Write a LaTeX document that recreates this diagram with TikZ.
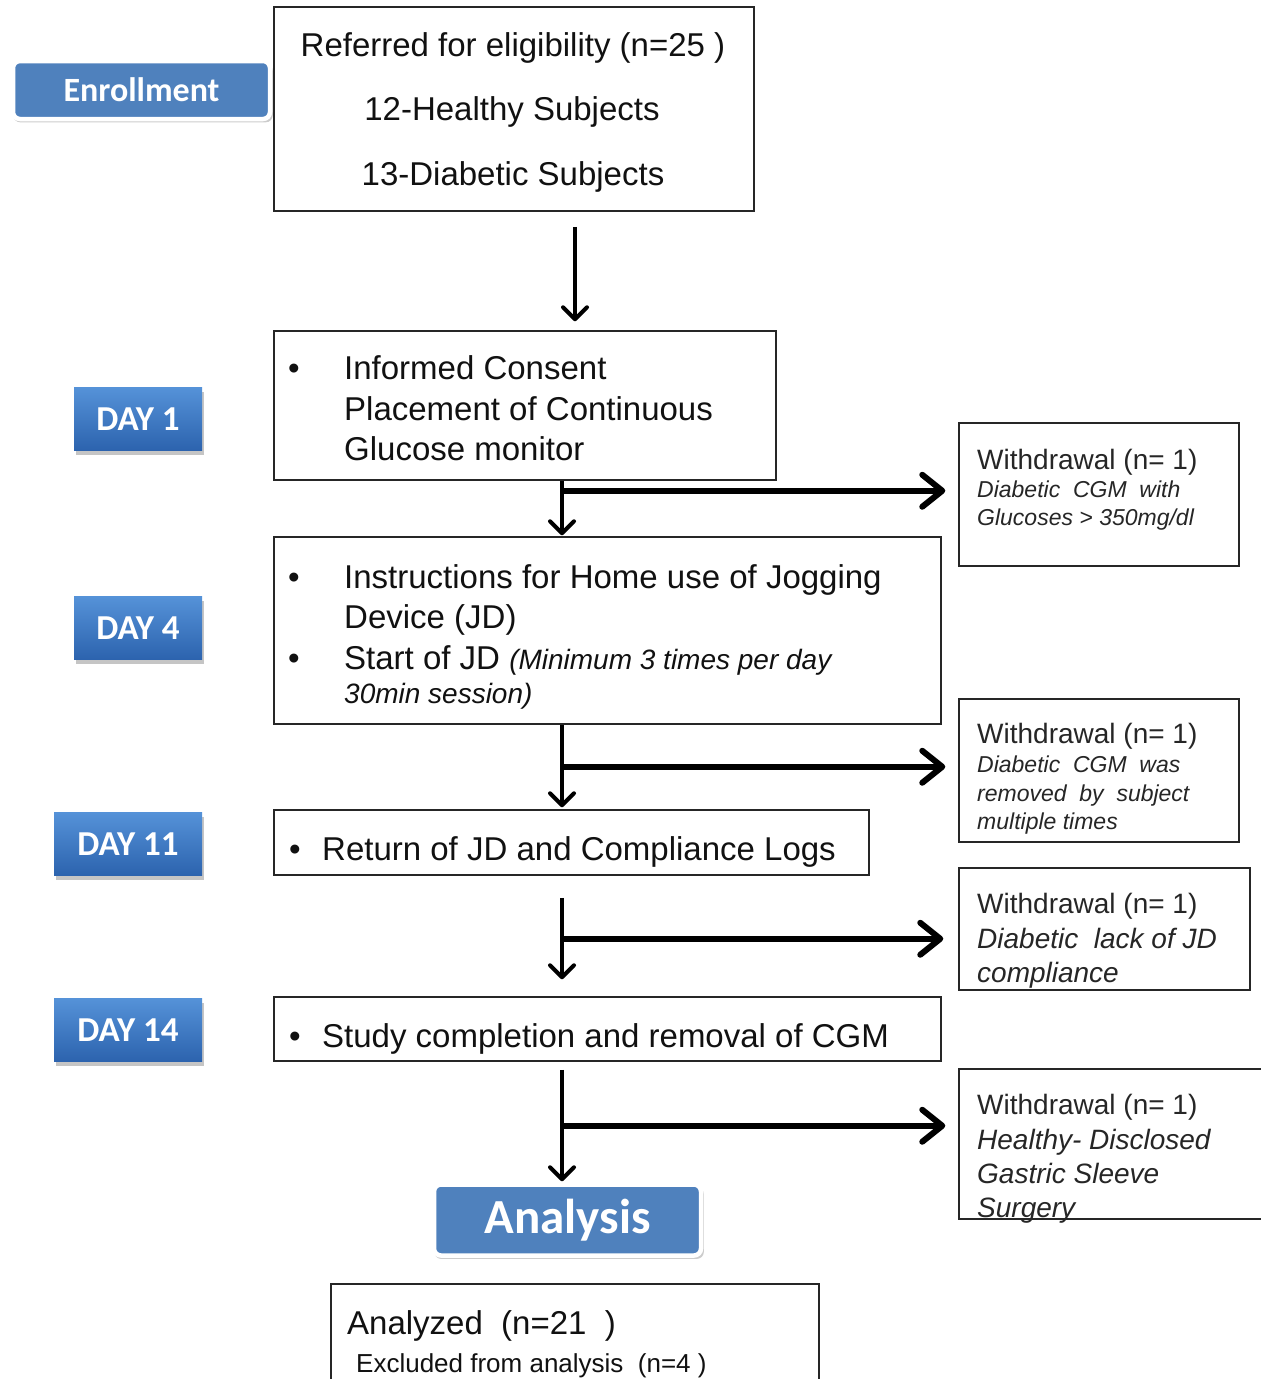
\documentclass[tikz,border=0pt]{standalone}
\usepackage{fontspec}
\setmainfont{Liberation Sans}
\newfontfamily\btnfont{Carlito}
\usetikzlibrary{arrows.meta,shadows,calc}
\definecolor{btnblue}{HTML}{4F81BD}
\definecolor{daytop}{HTML}{5592D8}
\definecolor{daybot}{HTML}{2C63AE}
\definecolor{ink}{HTML}{111111}
\begin{document}
\begin{tikzpicture}[x=1pt,y=-1pt,
  boxst/.style={draw=black!85, line width=1.5pt, rectangle, inner sep=0pt, fill=white},
  maintx/.style={font=\fontsize{33}{40}\selectfont, inner sep=0pt, anchor=base west, text=ink},
  maintc/.style={font=\fontsize{33}{40}\selectfont, inner sep=0pt, anchor=base, text=ink},
  wtitle/.style={font=\fontsize{28}{34}\selectfont, inner sep=0pt, anchor=base west, text=black!85},
  wsmall/.style={font=\fontsize{23}{28}\selectfont\itshape, inner sep=0pt, anchor=base west, text=black!85},
  wital/.style={font=\fontsize{28}{34}\selectfont\itshape, inner sep=0pt, anchor=base west, text=black!85},
  daybtn/.style={rectangle, minimum height=63pt, top color=daytop, bottom color=daybot, draw=none,
     drop shadow={shadow xshift=2pt, shadow yshift=-4pt, opacity=0.45},
     text=white, font=\btnfont\bfseries\fontsize{35}{40}\selectfont, inner sep=0pt},
  bigbtn/.style={rectangle, rounded corners=7pt, fill=btnblue, draw=white, line width=4.5pt,
     drop shadow={shadow xshift=1.5pt, shadow yshift=-3pt, opacity=0.4, shadow scale=1.01},
     text=white, inner sep=0pt},
  varr/.style={line width=4pt, draw=black, -{Straight Barb[length=12pt,width=24pt,round]}},
  harr/.style={line width=6pt, draw=black, -{Straight Barb[length=20pt,width=32pt,round]}}
]
\useasboundingbox (0,0) rectangle (1261,1379);
\fill[white] (0,0) rectangle (1261,1379);
\clip (0,0) rectangle (1261,1379);

% side buttons
\node[bigbtn, minimum width=257pt, minimum height=58pt, font=\btnfont\bfseries\fontsize{34}{40}\selectfont] (enr) at (141.5,90) {Enrollment};
\node[daybtn, minimum width=128pt] (d1) at (138,419) {DAY 1};
\node[daybtn, minimum width=128pt] (d4) at (138,628) {DAY 4};
\node[daybtn, minimum width=148pt] (d11) at (128,844) {DAY 11};
\node[daybtn, minimum width=148pt] (d14) at (128,1030) {DAY 14};

% main boxes
\node[boxst, minimum width=480pt, minimum height=204pt] (b1) at (514,109) {};
\node[boxst, minimum width=502pt, minimum height=149pt] (b2) at (525,405.5) {};
\node[boxst, minimum width=667pt, minimum height=187pt] (b3) at (607.5,630.5) {};
\node[boxst, minimum width=595pt, minimum height=65pt] (b4) at (571.5,842.5) {};
\node[boxst, minimum width=667pt, minimum height=64pt] (b5) at (607.5,1029) {};
\node[boxst, minimum width=488pt, minimum height=112pt] (b6) at (575,1340) {};

% withdrawal boxes
\node[boxst, minimum width=280pt, minimum height=143pt] (w1) at (1099,494.5) {};
\node[boxst, minimum width=280pt, minimum height=143pt] (w2) at (1099,770.5) {};
\node[boxst, minimum width=291pt, minimum height=122pt] (w3) at (1104.5,929) {};
\node[boxst, minimum width=316pt, minimum height=150pt] (w4) at (1117,1144) {};

% analysis button
\node[bigbtn, minimum width=267pt, minimum height=71pt, font=\btnfont\bfseries\fontsize{49}{56}\selectfont] (ana) at (567.5,1220) {\raisebox{-3pt}{Analysis}};

% texts box 1
\node[maintc] (t1a) at (513,56) {Referred for eligibility (n=25 )};
\node[maintc] (t1b) at (512,120) {12-Healthy Subjects};
\node[maintc] (t1c) at (513,185) {13-Diabetic Subjects};

% texts box 2
\node[maintx] (t2b) at (288,379) {\textbullet};
\node[maintx] (t2a) at (344,379) {Informed Consent};
\node[maintx] (t2c) at (344,420) {Placement of Continuous};
\node[maintx] (t2d) at (344,460) {Glucose monitor};

% texts box 3
\node[maintx] (t3b1) at (288,588) {\textbullet};
\node[maintx] (t3a) at (344,588) {Instructions for Home use of Jogging};
\node[maintx] (t3c) at (344,628) {Device (JD)};
\node[maintx] (t3b2) at (288,669) {\textbullet};
\node[maintx] (t3d) at (344,669) {Start of JD {\fontsize{28}{34}\selectfont\itshape (Minimum 3 times per day}};
\node[maintx, font=\fontsize{28}{34}\selectfont\itshape] (t3e) at (344,703) {30min session)};

% texts box 4, 5
\node[maintx] (t4b) at (289,860) {\textbullet};
\node[maintx] (t4) at (322,860) {Return of JD and Compliance Logs};
\node[maintx] (t5b) at (289,1047) {\textbullet};
\node[maintx] (t5) at (322,1047) {Study completion and removal of CGM};

% texts box 6
\node[maintx] (t6a) at (347,1334) {Analyzed\ \ (n=21\ \ )};
\node[maintx, font=\fontsize{26}{32}\selectfont] (t6b) at (356,1372) {Excluded from analysis\ \ (n=4 )};

% withdrawal texts
\node[wtitle] (w1a) at (977,469) {Withdrawal (n=\ 1)};
\node[wsmall] (w1b) at (977,497) {Diabetic\ \ CGM\ \ with};
\node[wsmall] (w1c) at (977,525) {Glucoses > 350mg/dl};

\node[wtitle] (w2a) at (977,743) {Withdrawal (n=\ 1)};
\node[wsmall] (w2b) at (977,772) {Diabetic\ \ CGM\ \ was};
\node[wsmall] (w2c) at (977,801) {removed\ \ by\ \ subject};
\node[wsmall] (w2d) at (977,829) {multiple times};

\node[wtitle] (w3a) at (977,913) {Withdrawal (n=\ 1)};
\node[wital] (w3b) at (977,948) {Diabetic\ \ lack of JD};
\node[wital] (w3c) at (977,982) {compliance};

\node[wtitle] (w4a) at (977,1114) {Withdrawal (n=\ 1)};
\node[wital] (w4b) at (977,1149) {Healthy- Disclosed};
\node[wital] (w4c) at (977,1183) {Gastric Sleeve};
\node[wital] (w4d) at (977,1217) {Surgery};

% connectors
\coordinate (c1) at (575,0);
\coordinate (c2) at (562,0);
\draw[varr, shorten <=15pt, shorten >=9pt] (b1.south -| c1) -- (b2.north -| c1);
\draw[varr, shorten >=1pt] (b2.south -| c2) -- (b3.north -| c2);
\draw[varr, shorten >=2pt] (b3.south -| c2) -- (b4.north -| c2);
\draw[varr, shorten <=22pt, shorten >=17pt] (b4.south -| c2) -- (b5.north -| c2);
\draw[varr, shorten <=8pt, shorten >=1pt] (b5.south -| c2) -- (ana.north -| c2);

\coordinate (h1) at ($(b2.south -| c2)+(0,10)$);
\coordinate (h2) at ($(b3.south -| c2)+(0,42)$);
\coordinate (h3) at ($(b4.south -| c2)+(0,63)$);
\coordinate (h4) at ($(b5.south -| c2)+(0,64)$);
\draw[harr, shorten >=13pt] (h1) -- (w1.west |- h1);
\draw[harr, shorten >=13pt] (h2) -- (w2.west |- h2);
\draw[harr, shorten >=15pt] (h3) -- (w3.west |- h3);
\draw[harr, shorten >=13pt] (h4) -- (w4.west |- h4);
\end{tikzpicture}
\end{document}
